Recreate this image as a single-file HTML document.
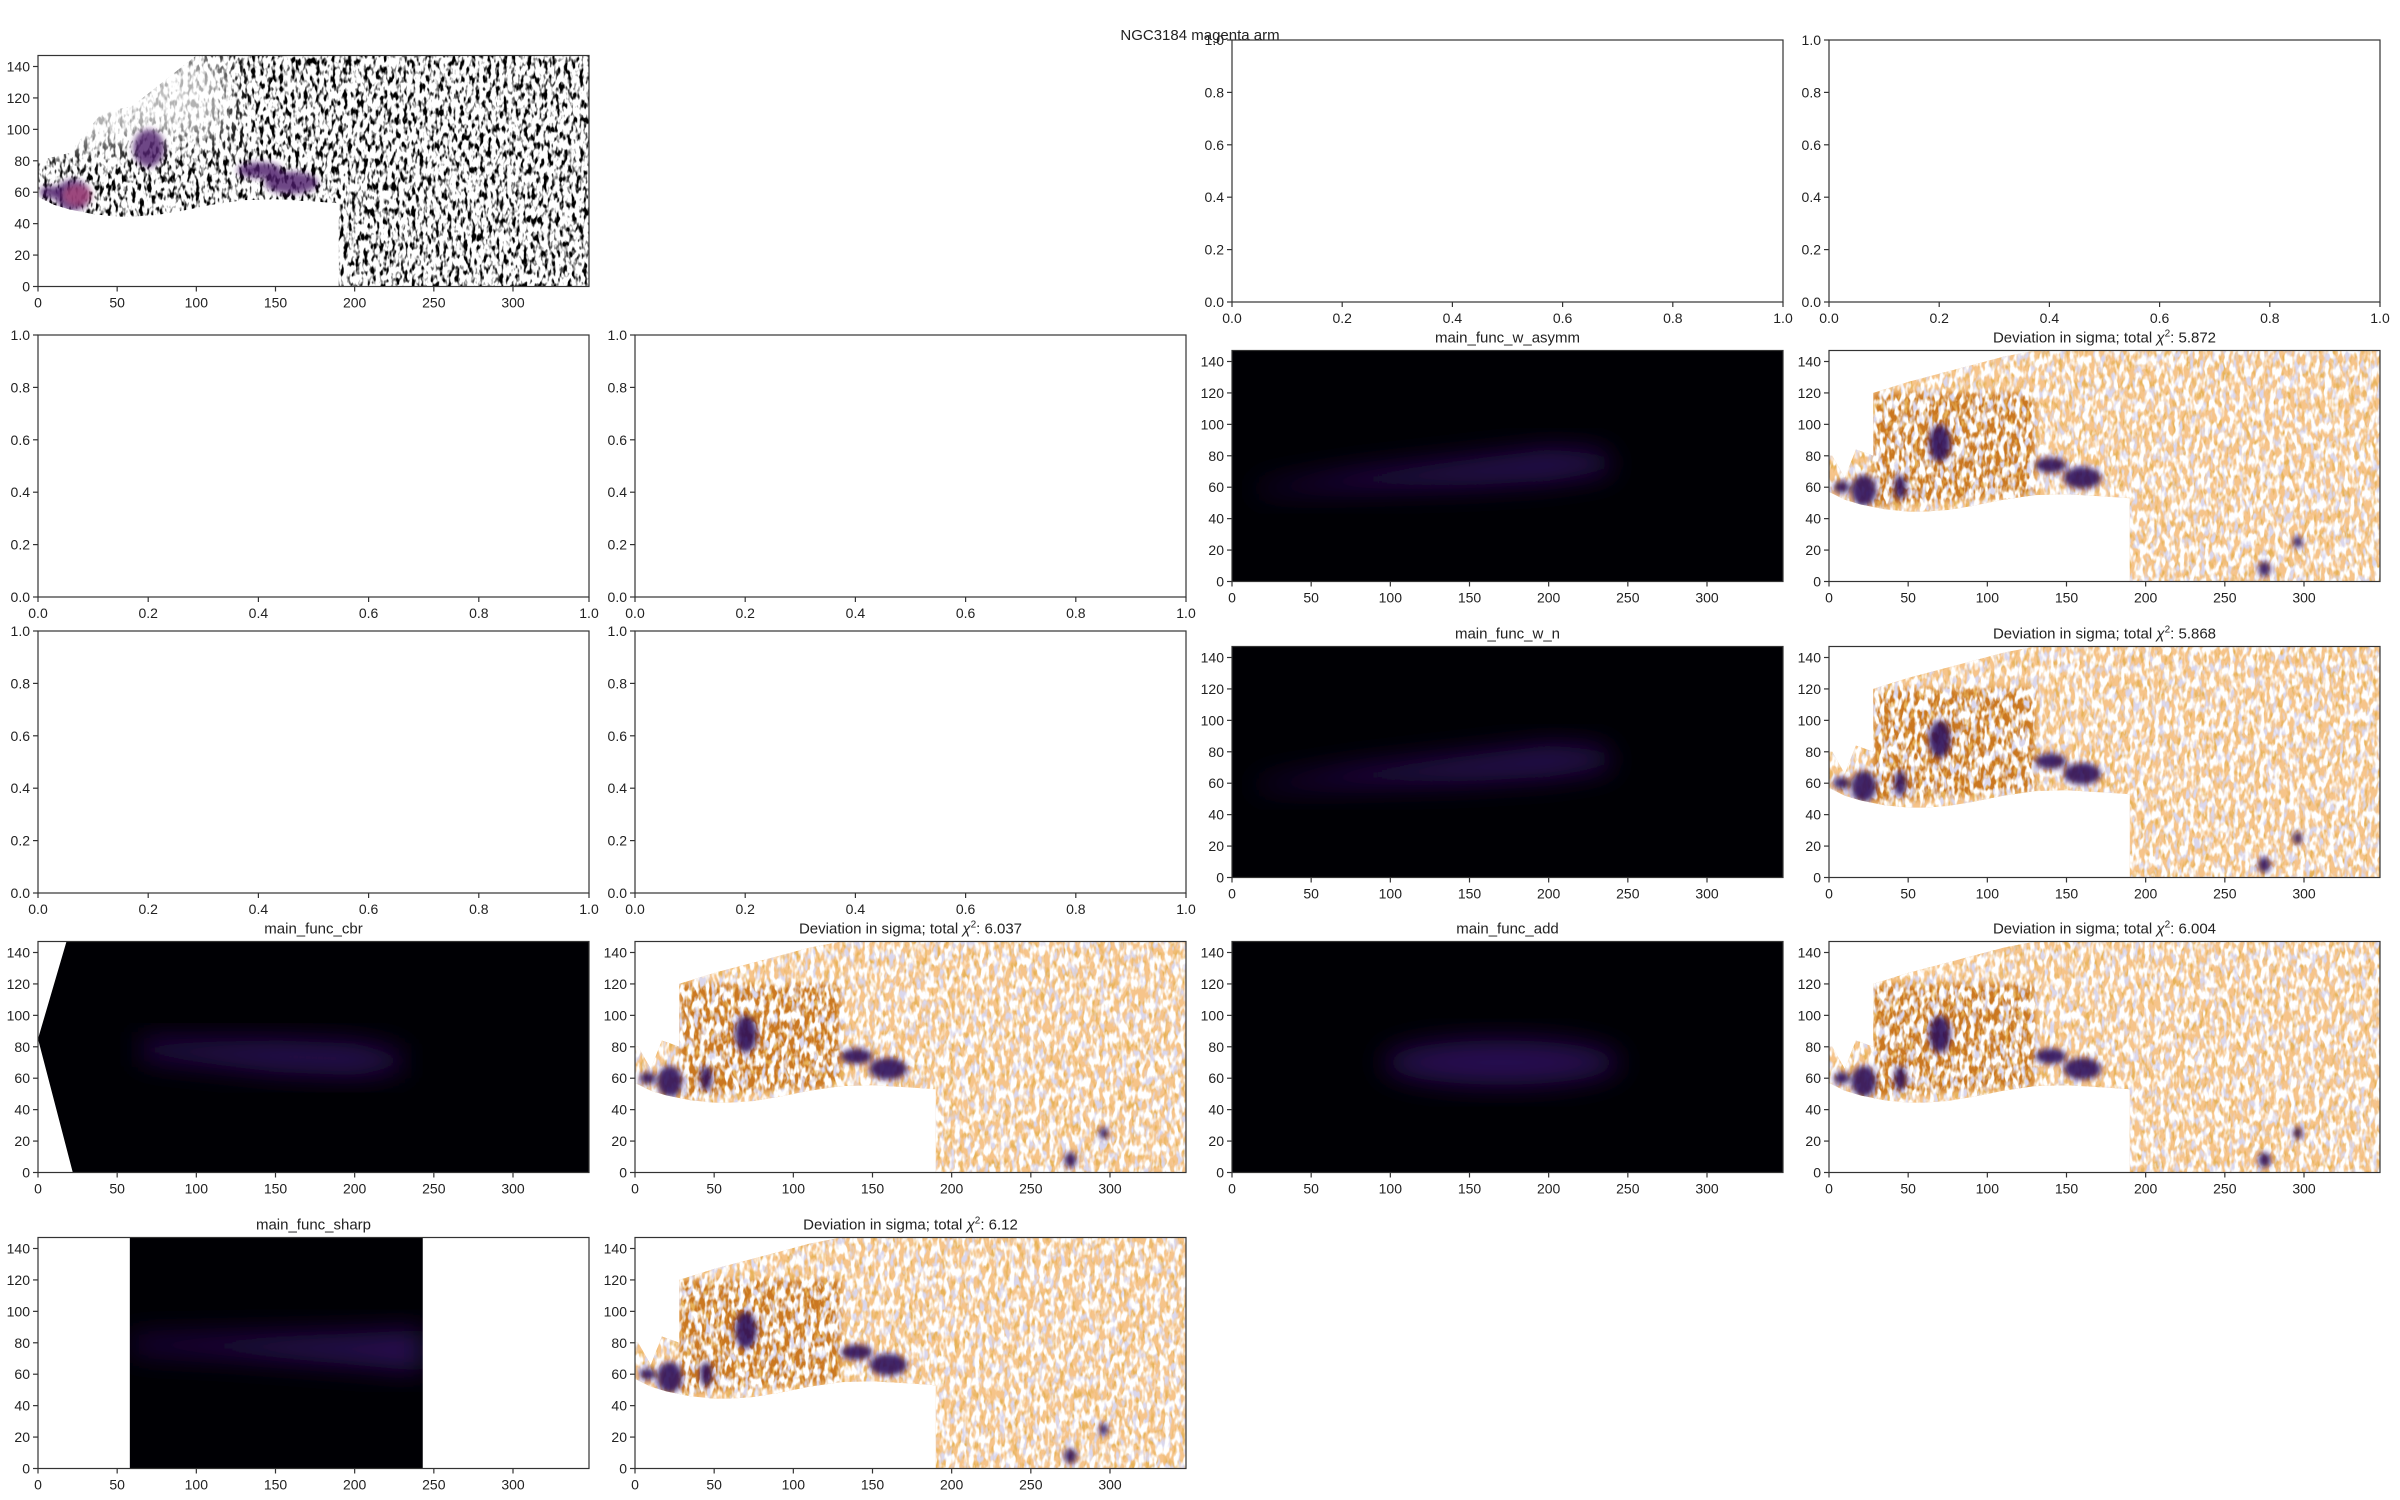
<!DOCTYPE html>
<html><head><meta charset="utf-8">
<style>
html,body{margin:0;padding:0;background:#fff;}
svg{display:block;font-family:"Liberation Sans","DejaVu Sans",sans-serif;}
</style></head>
<body>
<svg id="fig" width="2400" height="1500" viewBox="0 0 2400 1500" xmlns="http://www.w3.org/2000/svg">
<defs>
<filter id="wspeck" filterUnits="userSpaceOnUse" x="0" y="0" width="2400" height="1500">
<feTurbulence type="fractalNoise" baseFrequency="0.2 0.09" numOctaves="2" seed="2"/>
<feColorMatrix type="matrix" values="0 0 0 0 1  0 0 0 0 1  0 0 0 0 1  5 0 0 0 -2.2"/>
</filter>
<filter id="pspeck" filterUnits="userSpaceOnUse" x="0" y="0" width="2400" height="1500">
<feTurbulence type="fractalNoise" baseFrequency="0.18 0.08" numOctaves="2" seed="9"/>
<feColorMatrix type="matrix" values="0 0 0 0 0.7  0 0 0 0 0.68  0 0 0 0 0.85  0 5 0 0 -2.5"/>
</filter>
<filter id="ospeck" filterUnits="userSpaceOnUse" x="0" y="0" width="2400" height="1500">
<feTurbulence type="fractalNoise" baseFrequency="0.22 0.1" numOctaves="2" seed="5"/>
<feColorMatrix type="matrix" values="0 0 0 0 0.8  0 0 0 0 0.45  0 0 0 0 0.1  0 0 4 0 -2.0"/>
</filter>
<filter id="kspeck" filterUnits="userSpaceOnUse" x="0" y="0" width="2400" height="1500">
<feTurbulence type="fractalNoise" baseFrequency="0.25 0.12" numOctaves="2" seed="4"/>
<feColorMatrix type="matrix" values="0 0 0 0 0  0 0 0 0 0  0 0 0 0 0  5 0 0 0 -2.4"/>
</filter>
<filter id="blurB" x="-50%" y="-50%" width="200%" height="200%"><feGaussianBlur stdDeviation="14"/></filter>
<filter id="blurS" x="-50%" y="-50%" width="200%" height="200%"><feGaussianBlur stdDeviation="3"/></filter>
</defs>
</svg>
<script>
// ---- data ----
const figTitle = "NGC3184 magenta arm";
const chiValues = [5.872, 5.868, 6.037, 6.004, 6.12];
const modelTitles = ["main_func_w_asymm","main_func_w_n","main_func_cbr","main_func_add","main_func_sharp"];
const xTicksImg = [0,50,100,150,200,250,300];
const yTicksImg = [0,20,40,60,80,100,120,140];
const ticksUnit = [0,0.2,0.4,0.6,0.8,1.0];
const xMaxImg = 348, yMaxImg = 147;
// mask boundary (data coords)
const maskBottomX = [0,10,20,35,50,60,75,90,110,130,150,175,190];
const maskBottomY = [57,52,49,46,44.5,44.5,45.5,48,52,55,55.5,54,53];
const maskTopX = [348,130,110,80,50,28,28,20,17,10,2,0];
const maskTopY = [147,147,143,135,127,120,80,83,84,66,80,80];
const rawTopX = [348,100,60,40,20,0];
const rawTopY = [147,147,115,110,85,80];
// purple deviation blobs [x,y,rx,ry]
const devBlobX = [22,70,160,140,8,275,296,45];
const devBlobY = [58,88,66,74,60,8,25,60];
const devBlobRX = [8,7,12,10,5,4,3,4];
const devBlobRY = [10,12,7,5,4,5,4,8];
// dark orange zone
const darkZoneX = [28,130,130,28];
const darkZoneY = [120,120,55,48];
// model blob outlines
const asymmX = [15,80,150,200,235,240,200,150,80,15];
const asymmY = [60,70,78,84,82,70,64,61,59,57];
const cbrX = [65,150,200,230,230,200,150,65];
const cbrY = [84,84,82,76,66,62,64,73];
const sharpX = [58,120,200,243,243,200,120,58];
const sharpY = [83,84,86,88,62,66,72,75];
const addCx = 170, addCy = 70, addRx = 75, addRy = 14;
const cbrWedgeX = [0,18,0,22,0];
const cbrWedgeY = [147,147,85,0,0];
const sharpLeft = 58, sharpRight = 243;

// ---- layout ----
const NS = "http://www.w3.org/2000/svg";
const svg = document.getElementById('fig');
const colL = [38,635,1232,1829];
const rowTop = [40,335,631,926,1222];
const W = 551, Himg = 231, Hempty = 262;
let uid = 0;
function el(tag, attrs, parent){
  const e = document.createElementNS(NS, tag);
  for (const k in attrs) e.setAttribute(k, attrs[k]);
  (parent||svg).appendChild(e); return e;
}
function txt(x,y,s,anchor,size,parent){
  const t = el('text',{x:x,y:y,'text-anchor':anchor,'font-size':size,fill:'#222'},parent);
  t.textContent = s; return t;
}
function mkAx(L,T,h,xmax,ymax){
  return {L,T,h,sx:v=>L+v/xmax*W, sy:v=>T+h-v/ymax*h};
}
function poly(ax,xs,ys){return xs.map((x,i)=>ax.sx(x).toFixed(1)+','+ax.sy(ys[i]).toFixed(1)).join(' ');}
function drawAxes(ax,g,xt,yt,xmax,ymax,fmt){
  el('rect',{x:ax.L,y:ax.T,width:W,height:ax.h,fill:'none',stroke:'#333','stroke-width':1.2},g);
  xt.forEach(v=>{
    const x = ax.L+v/xmax*W;
    el('line',{x1:x,y1:ax.T+ax.h,x2:x,y2:ax.T+ax.h+5,stroke:'#333','stroke-width':1.2},g);
    const t = txt(x,ax.T+ax.h+21,fmt(v),'middle',14,g);
    
    
  });
  yt.forEach(v=>{
    const y = ax.T+ax.h-v/ymax*ax.h;
    el('line',{x1:ax.L-5,y1:y,x2:ax.L,y2:y,stroke:'#333','stroke-width':1.2},g);
    const t = txt(ax.L-8,y+5,fmt(v),'end',14,g);
    
    
  });
}
function clip(ax,pts){
  const id='c'+(uid++);
  const cp = el('clipPath',{id:id});
  el('polygon',{points:pts},cp);
  return id;
}
function rectClip(ax){
  const id='r'+(uid++);
  const cp = el('clipPath',{id:id});
  el('rect',{x:ax.L,y:ax.T,width:W,height:ax.h},cp);
  return id;
}
function maskPts(ax,topX,topY){
  const xs = maskBottomX.concat([190,348]).concat(topX);
  const ys = maskBottomY.concat([0,0]).concat(topY);
  return poly(ax,xs,ys);
}
function emptyPanel(r,c){
  const g = el('g',{});
  
  
  const ax = mkAx(colL[c],rowTop[r],Hempty,1,1);
  drawAxes(ax,g,ticksUnit,ticksUnit,1,1,v=>v.toFixed(1));
}
function title(ax,g,s,isChi){
  const t = el('text',{x:ax.L+W/2,y:ax.T-8,'text-anchor':'middle','font-size':15,fill:'#222'},g);
  
  
  if(isChi){
    t.appendChild(document.createTextNode('Deviation in sigma; total '));
    const c = document.createElementNS(NS,'tspan'); c.setAttribute('font-style','italic'); c.textContent='χ'; t.appendChild(c);
    const s2 = document.createElementNS(NS,'tspan'); s2.setAttribute('dy','-6'); s2.setAttribute('font-size','10'); s2.textContent='2'; t.appendChild(s2);
    const s3 = document.createElementNS(NS,'tspan'); s3.setAttribute('dy','6'); s3.textContent=': '+s; t.appendChild(s3);
  } else t.textContent = s;
}
function imgAx(r,c){ return mkAx(colL[c],rowTop[r]+15.5,Himg,xMaxImg,yMaxImg); }

function rawPanel(r,c){
  const ax = imgAx(r,c);
  const g = el('g',{});  
  const id = clip(ax,maskPts(ax,rawTopX,rawTopY));
  const cg = el('g',{'clip-path':'url(#'+id+')'},g);
  el('rect',{x:ax.L,y:ax.T,width:W,height:Himg,filter:'url(#kspeck)'},cg);
  // fade top-left (sparse)
  el('polygon',{points:poly(ax,[0,120,120,0],[147,147,95,85]),fill:'#fff',opacity:0.7,filter:'url(#blurB)'},cg);
  // purple emission along arm
  const pg = el('g',{filter:'url(#blurS)'},cg);
  devBlobX.slice(0,5).forEach((x,i)=>{
    const e = el('ellipse',{cx:ax.sx(x),cy:ax.sy(devBlobY[i]),rx:devBlobRX[i]/xMaxImg*W*1.4,ry:devBlobRY[i]/yMaxImg*Himg,fill:'#4a1668',opacity:0.8},pg);
    
    
  });
  el('ellipse',{cx:ax.sx(25),cy:ax.sy(58),rx:14,ry:10,fill:'#b04a7a',opacity:0.7},pg);
  drawAxes(ax,g,xTicksImg,yTicksImg,xMaxImg,yMaxImg,v=>String(v));
}
function devPanel(r,c,k){
  const ax = imgAx(r,c);
  const g = el('g',{});  
  const id = clip(ax,maskPts(ax,maskTopX,maskTopY));
  const cg = el('g',{'clip-path':'url(#'+id+')'},g);
  el('rect',{x:ax.L,y:ax.T,width:W,height:Himg,fill:'#f6c48a'},cg);
  const dz = el('polygon',{points:poly(ax,darkZoneX,darkZoneY),fill:'#c26a10',opacity:0.85,filter:'url(#blurS)'},cg);
  
  
  el('rect',{x:ax.L,y:ax.T,width:W,height:Himg,filter:'url(#ospeck)'},cg);
  el('rect',{x:ax.L,y:ax.T,width:W,height:Himg,filter:'url(#pspeck)'},cg);
  el('rect',{x:ax.L,y:ax.T,width:W,height:Himg,filter:'url(#wspeck)'},cg);
  const pg = el('g',{filter:'url(#blurS)'},cg);
  devBlobX.forEach((x,i)=>{
    const e = el('ellipse',{cx:ax.sx(x),cy:ax.sy(devBlobY[i]),rx:devBlobRX[i]/xMaxImg*W,ry:devBlobRY[i]/yMaxImg*Himg,fill:'#2d0a5a',opacity:0.9},pg);
    
    
  });
  title(ax,g,String(chiValues[k]),true);
  drawAxes(ax,g,xTicksImg,yTicksImg,xMaxImg,yMaxImg,v=>String(v));
}
function modelPanel(r,c,k){
  const ax = imgAx(r,c);
  const g = el('g',{});  
  const id = rectClip(ax);
  const cg = el('g',{'clip-path':'url(#'+id+')'},g);
  el('rect',{x:ax.L,y:ax.T,width:W,height:Himg,fill:'#000004'},cg);
  let blob;
  if(k<2) blob = el('polygon',{points:poly(ax,asymmX,asymmY)},cg);
  else if(k===2) blob = el('polygon',{points:poly(ax,cbrX,cbrY)},cg);
  else if(k===3) blob = el('ellipse',{cx:ax.sx(addCx),cy:ax.sy(addCy),rx:addRx/xMaxImg*W,ry:addRy/yMaxImg*Himg},cg);
  else blob = el('polygon',{points:poly(ax,sharpX,sharpY)},cg);
  blob.setAttribute('fill','#2c1154'); blob.setAttribute('filter','url(#blurB)');
  
  
  if(k===2){
    const w = el('polygon',{points:poly(ax,cbrWedgeX,cbrWedgeY),fill:'#fff'},cg);
    
    
  }
  if(k===4){
    el('rect',{x:ax.L,y:ax.T,width:ax.sx(sharpLeft)-ax.L,height:Himg,fill:'#fff'},cg);
    el('rect',{x:ax.sx(sharpRight),y:ax.T,width:ax.L+W-ax.sx(sharpRight),height:Himg,fill:'#fff'},cg);
  }
  title(ax,g,modelTitles[k],false);
  drawAxes(ax,g,xTicksImg,yTicksImg,xMaxImg,yMaxImg,v=>String(v));
}

const ft = txt(1200,40,figTitle,'middle',15);



rawPanel(0,0);
emptyPanel(0,2); emptyPanel(0,3);
emptyPanel(1,0); emptyPanel(1,1);
modelPanel(1,2,0); devPanel(1,3,0);
emptyPanel(2,0); emptyPanel(2,1);
modelPanel(2,2,1); devPanel(2,3,1);
modelPanel(3,0,2); devPanel(3,1,2);
modelPanel(3,2,3); devPanel(3,3,3);
modelPanel(4,0,4); devPanel(4,1,4);
</script>
</body></html>
